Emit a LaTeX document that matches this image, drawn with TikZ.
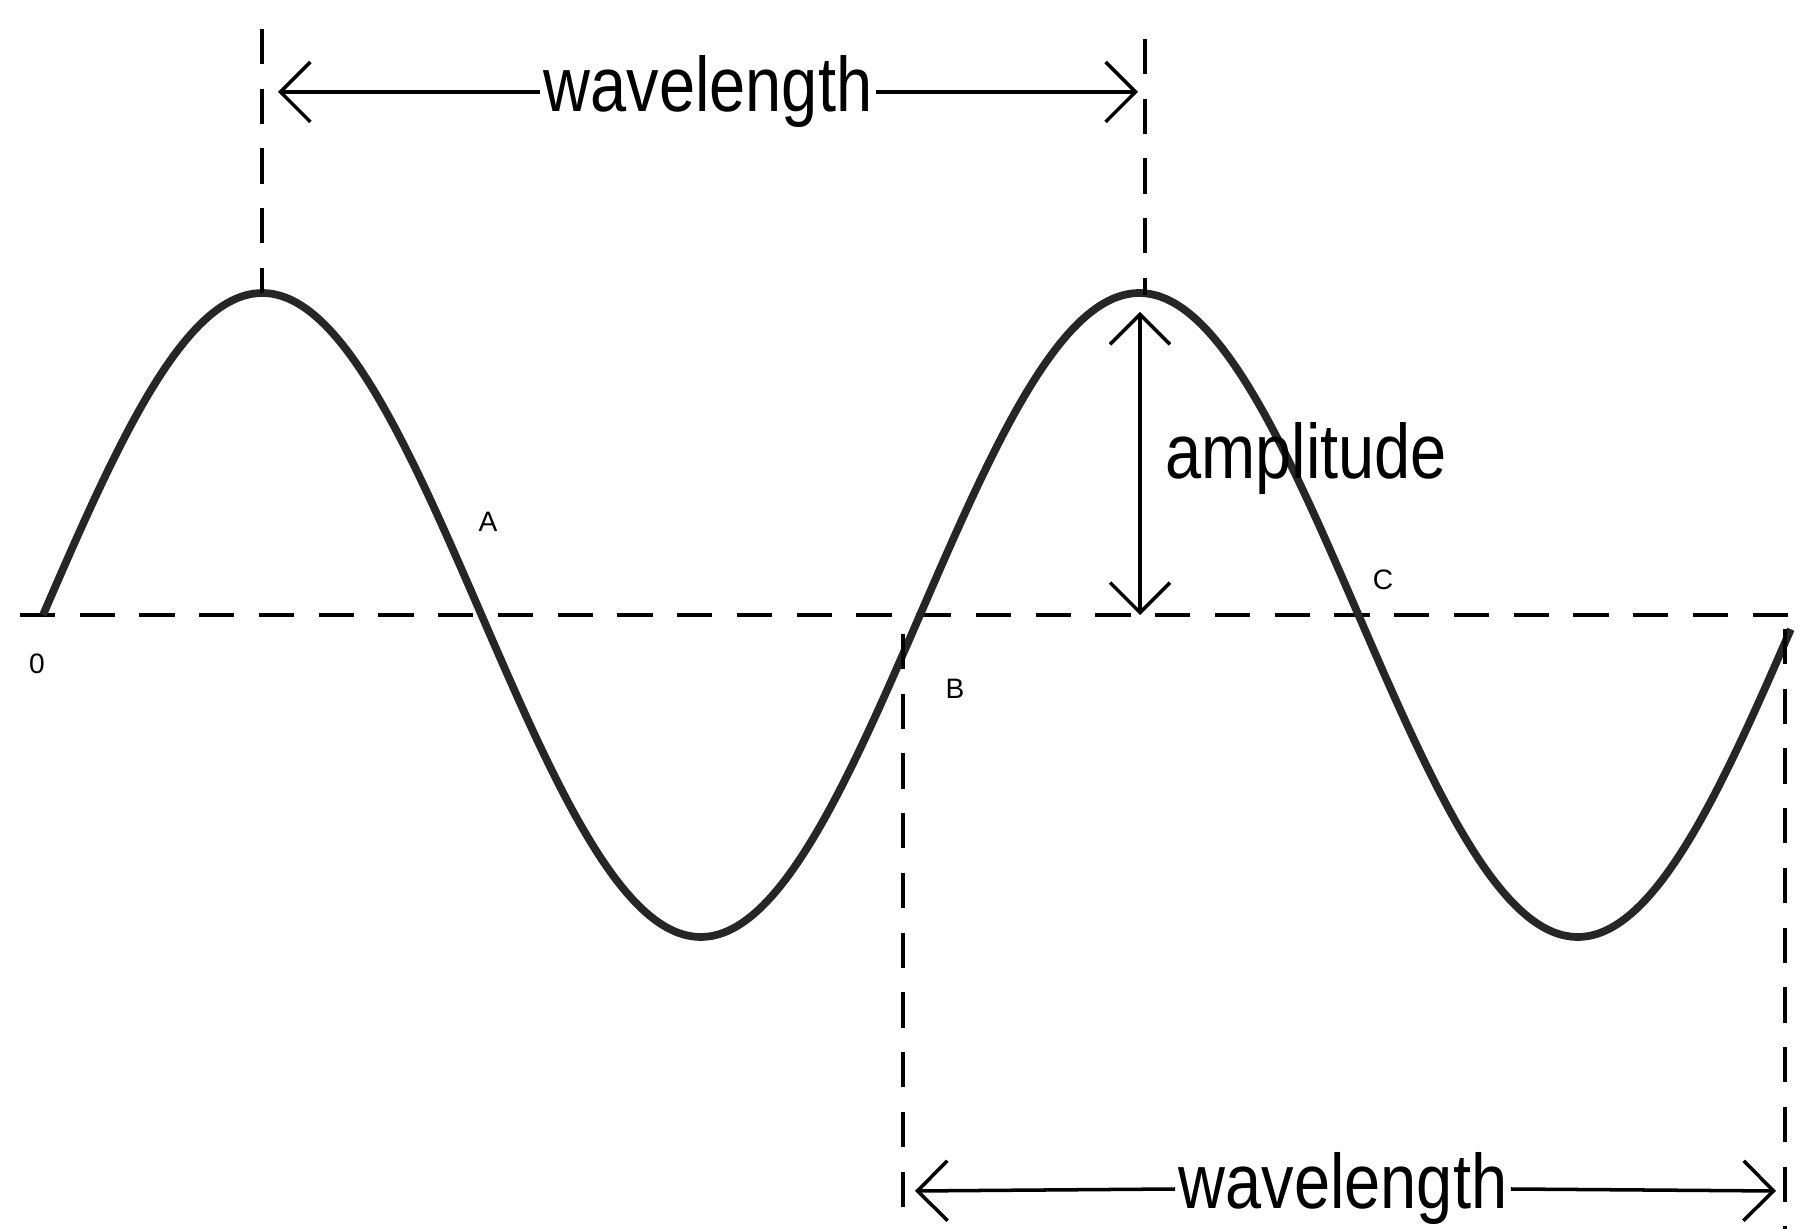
\documentclass[tikz,border=0pt]{standalone}
\usepackage{fontspec}
\setmainfont{Liberation Sans}
\usetikzlibrary{arrows.meta, positioning}

\begin{document}
\begin{tikzpicture}[
    wave/.style={line width=2.2pt, black!85},
    guide/.style={draw, line width=1pt, dash pattern=on 10pt off 7pt},
    dim/.style={draw, line width=1pt, {Straight Barb[length=0.3cm, width=0.6cm, line width=1pt]}-{Straight Barb[length=0.3cm, width=0.6cm, line width=1pt]}},
    half/.style={draw, line width=1pt},
    big/.style={font=\fontsize{22}{24}\selectfont, xscale=0.84, inner sep=1pt},
    pt/.style={font=\fontsize{8}{9}\selectfont, inner sep=1pt}
]
    \useasboundingbox (0,0) rectangle (18,12.29);

    % axis and wave
    \coordinate (ax0) at (0.2,6.14);
    \coordinate (ax1) at (18,6.14);
    \draw[guide] (ax0) -- (ax1);
    \draw[wave, domain=0.43:17.91, samples=200, smooth]
        plot (\x, {6.14 + 3.22*sin(360*(\x-0.43)/8.77)});

    % crest and trough markers
    \coordinate (c1) at (2.62,9.36);
    \coordinate (c2) at (11.45,9.34);
    \coordinate (c1t) at (2.62,12.0);
    \coordinate (c2t) at (11.45,11.9);
    \coordinate (bz) at (9.03,5.95);
    \coordinate (bb) at (9.03,0);
    \coordinate (ez) at (17.85,6.0);
    \coordinate (eb) at (17.85,0);
    \draw[guide] (c1t) -- (c1);
    \draw[guide] (c2t) -- (c2);
    \draw[guide] (bz) -- (bb);
    \draw[guide] (ez) -- (eb);

    % top wavelength
    \coordinate (wa) at (2.78,11.37);
    \coordinate (wb) at (11.38,11.37);
    \node[big] (wl1) at (7.08,11.37) {wavelength};
    \draw[half, {Straight Barb[length=0.3cm, width=0.6cm, line width=1pt]}-] (wa) -- (wl1.west);
    \draw[half, -{Straight Barb[length=0.3cm, width=0.6cm, line width=1pt]}] (wl1.east) -- (wb);

    % bottom wavelength
    \coordinate (wc) at (9.15,0.38);
    \coordinate (wd) at (17.76,0.38);
    \node[big] (wl2) at (13.43,0.40) {wavelength};
    \draw[half, {Straight Barb[length=0.3cm, width=0.6cm, line width=1pt]}-] (wc) -- (wl2.west);
    \draw[half, -{Straight Barb[length=0.3cm, width=0.6cm, line width=1pt]}] (wl2.east) -- (wd);

    % amplitude
    \coordinate (am1) at (11.40,9.17);
    \coordinate (am2) at (11.40,6.14);
    \draw[dim] (am1) -- (am2);
    \node[big, anchor=west] (amp) at (11.62,7.70) {amplitude};

    % points
    \node[pt] (p0) at (0.37,5.65) {0};
    \node[pt] (pA) at (4.88,7.07) {A};
    \node[pt] (pB) at (9.55,5.40) {B};
    \node[pt] (pC) at (13.83,6.49) {C};
\end{tikzpicture}
\end{document}
